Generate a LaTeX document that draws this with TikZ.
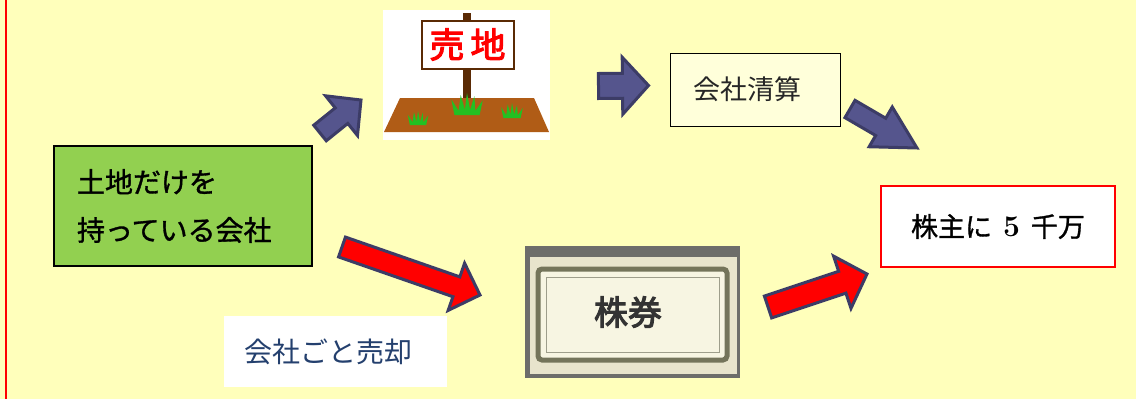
\documentclass[tikz,border=0pt]{standalone}
\usepackage{fontspec}
\usepackage{tikz}
\usetikzlibrary{calc}
\newfontfamily\jp{Noto Sans CJK JP}
\newfontfamily\jpb[FakeBold=1.2]{Noto Sans CJK JP}
\newfontfamily\jpbb[FakeBold=3]{Noto Sans CJK JP}
\definecolor{bgyellow}{HTML}{FFFFBB}
\definecolor{leafgreen}{HTML}{92D050}
\definecolor{slatefill}{HTML}{55558D}
\definecolor{slateline}{HTML}{3C3C66}
\definecolor{soil}{HTML}{B05C16}
\definecolor{post}{HTML}{5A2A04}
\definecolor{grass}{HTML}{22C022}
\definecolor{navytext}{HTML}{24406E}
\definecolor{paleyellow}{HTML}{FFFFDA}
\definecolor{stockgray}{HTML}{6D6D6A}
\definecolor{stockedge}{HTML}{E8E4CC}
\definecolor{frameolive}{HTML}{74745A}
\definecolor{cream}{HTML}{F7F5E2}

\newcommand{\blockarrow}[6]{%
	\draw[#1] let \p1=(#2), \p2=(#3), \n1={atan2(\y2-\y1,\x2-\x1)}, \n2={veclen(\x2-\x1,\y2-\y1)} in
		[shift={(\p1)}, rotate=\n1]
		(0,-#4) -- ({\n2-#6},-#4) -- ({\n2-#6},-#5) -- (\n2,0) -- ({\n2-#6},#5) -- ({\n2-#6},#4) -- (0,#4) -- cycle;}

\begin{document}
\begin{tikzpicture}[x=1pt,y=1pt]
	\tikzstyle{every node}+=[inner sep=0pt]
	\tikzstyle{greenbox}=[draw=black, line width=1.5pt, fill=leafgreen, minimum width=258pt, minimum height=120pt, text width=212pt, align=left, font=\jpb\fontsize{28}{48}\selectfont]
	\tikzstyle{clearbox}=[draw=black, line width=0.8pt, fill=paleyellow, minimum width=170pt, minimum height=73pt, text width=124pt, align=left, text=black!85, font=\jp\fontsize{27}{30}\selectfont]
	\tikzstyle{redbox}=[draw=red, line width=2.5pt, fill=white, minimum width=234pt, minimum height=81pt, font=\jpb\fontsize{27}{30}\selectfont]
	\tikzstyle{whitelabel}=[fill=white, minimum width=223pt, minimum height=71pt, text width=183pt, align=left, text=navytext, font=\jp\fontsize{28}{30}\selectfont]
	\tikzstyle{bluearrow}=[fill=slatefill, draw=slateline, line width=3pt, line join=miter]
	\tikzstyle{redarrow}=[fill=red, draw=slateline, line width=3pt, line join=miter]
	\useasboundingbox (0,0) rectangle (1136,-399);
	\fill[bgyellow] (0,0) rectangle (1136,-399);
	\draw[red, line width=1.5pt] (6,0) -- (6,-399);
	\node[fill=white, minimum width=167pt, minimum height=130pt] (landsale) at (466.5,-75) {};
	\fill[post] (463,-13) rectangle (471,-100);
	\fill[soil] (400,-98) -- (534,-98) -- (549,-132) -- (384,-132) -- cycle;
	\foreach \gx/\gy/\gs in {467/-115/1.05, 418/-125/0.68, 512/-118/0.72}
		\fill[grass, shift={(\gx,\gy)}, scale=\gs] (-12,0) -- (-15,15) -- (-8,4) -- (-6,19) -- (-2,5) -- (0,21) -- (3,5) -- (7,18) -- (8,4) -- (15,14) -- (12,0) -- cycle;
	\node[draw=post, line width=2pt, fill=white, minimum width=92pt, minimum height=48pt] (board) at (467.5,-44.5) {\jpbb\fontsize{35}{35}\selectfont\color{red}売\hspace{6pt}地};
	\node[fill=stockgray, minimum width=215pt, minimum height=132pt] (stock) at (632.5,-312) {};
	\fill[stockedge] (530,-257) rectangle (737,-374);
	\draw[frameolive, line width=5pt, rounded corners=4pt, fill=cream] (538,-269) rectangle (727,-360);
	\draw[frameolive!70, line width=1pt] (546,-277) rectangle (719,-352);
	\node[font=\jpbb\fontsize{34}{34}\selectfont, text=black!80] (stocklabel) at (628,-312) {株券};
	\node[greenbox] (company) at (183,-206) {土地だけを\\持っている会社};
	\node[clearbox] (liquidate) at (755,-89.5) {会社清算};
	\node[redbox] (holders) at (998,-226.5) {株主に\hspace{11pt}{\rmfamily\bfseries\fontsize{30}{30}\selectfont 5}\hspace{11pt}千万};
	\node[whitelabel] (sellall) at (335.5,-351.5) {会社ごと売却};
	\coordinate (upA) at (320,-133);
	\coordinate (upB) at (361,-100);
	\coordinate (rightA) at (598.5,-86);
	\coordinate (rightB) at (648.5,-85.5);
	\coordinate (downA) at (850,-109);
	\coordinate (downB) at (917,-148);
	\coordinate (sellA) at (342,-247);
	\coordinate (sellB) at (480,-295);
	\coordinate (payA) at (768,-307);
	\coordinate (payB) at (867,-274);
	\blockarrow{bluearrow}{upA}{upB}{10}{25.5}{25}
	\blockarrow{bluearrow}{rightA}{rightB}{12.5}{28.5}{26}
	\blockarrow{bluearrow}{downA}{downB}{10}{23}{42}
	\blockarrow{redarrow}{sellA}{sellB}{10.5}{25}{25}
	\blockarrow{redarrow}{payA}{payB}{11.5}{27.5}{26}
\end{tikzpicture}
\end{document}
